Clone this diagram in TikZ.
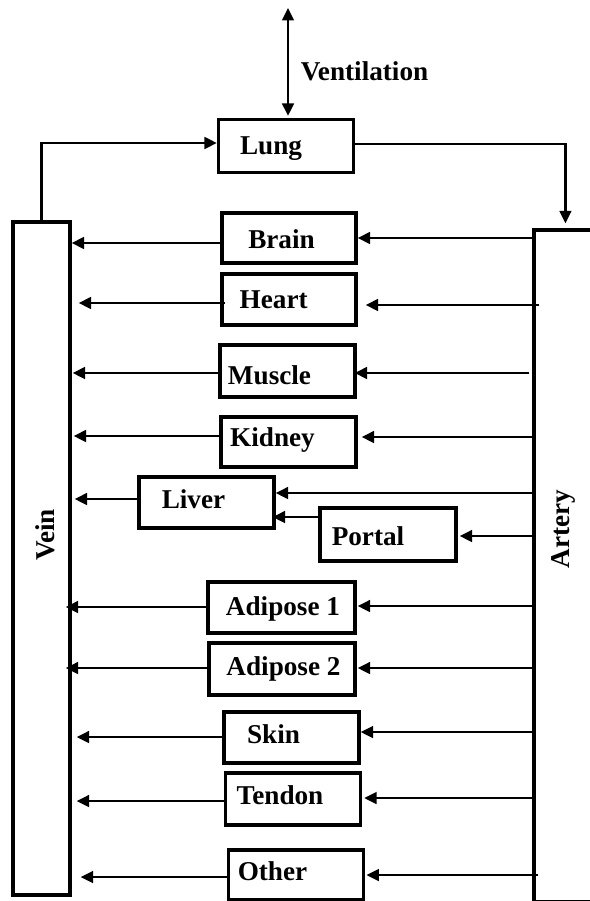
\documentclass[tikz,border=0pt]{standalone}
\usepackage{fontspec}
\setmainfont{Liberation Serif}
\usetikzlibrary{calc,positioning,arrows.meta}

\begin{document}
\begin{tikzpicture}[
    x=1pt,y=-1pt,
    >={Triangle[length=12.5pt,width=11.5pt]},
    organ/.style={rectangle,draw,line width=3.1pt,inner sep=0pt,minimum width=135pt,minimum height=51pt},
    vessel/.style={rectangle,draw,line width=3.1pt,inner sep=0pt},
    title/.style={font=\bfseries\fontsize{27.2}{30}\selectfont,inner sep=0pt,text height=18pt,text depth=0pt},
    flow/.style={line width=2.7pt,->}
    ]
    \useasboundingbox (0,0) rectangle (589,901);

    % vessels
    \node(vein) [vessel,minimum width=57pt,minimum height=673pt] at (41.5,558.5) {};
    \node(vein_title) [title,rotate=90] at (45,535) {Vein};

    \node(artery) [vessel,minimum width=116pt,minimum height=671.5pt] at (592,565.75) {};
    \node(artery_title) [title,rotate=90] at (560,529) {Artery};

    % lung
    \node(lung) [organ,minimum height=53pt] at (286,146) {};
    \node(lung_title) [title,xshift=-15pt] at (lung) {Lung};
    \coordinate(air) at (288,8);
    \draw[flow,<->] (air) -- ($(air |- lung.north)+(0,-2)$);
    \node(vent_title) [title] at (364.5,71.5) {Ventilation};
    \draw[flow] (vein.north) |- ($(lung.west)+(0,-3)$);
    \draw[flow] ($(lung.east)+(0,-2)$) -| ($(artery.north west)+(33,-5)$);

    % organs
    \node(brain) [organ,minimum width=134pt,minimum height=50pt] at (289,238) {};
    \node(brain_title) [title,xshift=-7.5pt,yshift=-1pt] at (brain) {Brain};

    \node(heart) [organ,minimum width=134pt] at (289,299.5) {};
    \node(heart_title) [title,xshift=-15.3pt] at (heart) {Heart};

    \node(muscle) [organ,minimum height=52pt] at (287.5,371) {};
    \node(muscle_title) [title,xshift=-18pt,yshift=-4.3pt] at (muscle) {Muscle};

    \node(kidney) [organ,minimum height=50pt] at (288.5,442) {};
    \node(kidney_title) [title,xshift=-16pt,yshift=5pt] at (kidney) {Kidney};

    \node(liver) [organ] at (206.5,502.5) {};
    \node(liver_title) [title,xshift=-13pt,yshift=3pt] at (liver) {Liver};

    \node(portal) [organ,minimum width=136pt,minimum height=53pt] at (388,534.5) {};
    \node(portal_title) [title,xshift=-20pt,yshift=-2pt] at (portal) {Portal};

    \node(adipose_one) [organ,minimum width=147pt] at (281.5,607.5) {};
    \node(adipose_one_title) [title,xshift=1.5pt,yshift=1.5pt] at (adipose_one) {Adipose 1};

    \node(adipose_two) [organ,minimum width=146pt,minimum height=52pt] at (282,669) {};
    \node(adipose_two_title) [title,xshift=1.5pt,yshift=2.5pt] at (adipose_two) {Adipose 2};

    \node(skin) [organ] at (291.5,737.5) {};
    \node(skin_title) [title,xshift=-18pt,yshift=3pt] at (skin) {Skin};

    \node(tendon) [organ,minimum height=52pt] at (293,799) {};
    \node(tendon_title) [title,xshift=-13pt,yshift=3.5pt] at (tendon) {Tendon};

    \node(other) [organ,minimum width=135.5pt,minimum height=50pt] at (296,875) {};
    \node(other_title) [title,xshift=-23.5pt,yshift=4pt] at (other) {Other};

    % artery to organs
    \draw[flow] (artery.west |- brain.east) -- (brain.east);
    \draw[flow] ($(artery.west |- heart.east)+(7,5.5)$) -- ($(heart.east)+(8,5.5)$);
    \draw[flow] ($(artery.west |- muscle.east)+(-3,2)$) -- ($(muscle.east)+(-2,2)$);
    \draw[flow] ($(artery.west |- kidney.east)+(3,-5)$) -- ($(kidney.east)+(4,-5)$);
    \draw[flow] ($(artery.west |- liver.east)+(0,-9.5)$) -- ($(liver.east)+(0,-9.5)$);
    \draw[flow] ($(artery.west |- portal.east)+(0,1.5)$) -- ($(portal.east)+(2,1.5)$);
    \draw[flow] ($(portal.west)+(0,-17.5)$) -- ($(liver.east |- portal.west)+(-3,-17.5)$);
    \draw[flow] ($(artery.west |- adipose_one.east)+(0,-1.5)$) -- ($(adipose_one.east)+(1,-1.5)$);
    \draw[flow] ($(artery.west |- adipose_two.east)+(0,-1)$) -- ($(adipose_two.east)+(1,-1)$);
    \draw[flow] ($(artery.west |- skin.east)+(0,-5.5)$) -- ($(skin.east)+(0,-5.5)$);
    \draw[flow] ($(artery.west |- tendon.east)+(3,-1)$) -- ($(tendon.east)+(2,-1)$);
    \draw[flow] ($(artery.west |- other.east)+(6,0)$) -- ($(other.east)+(1,0)$);

    % organs to vein
    \draw[flow] ($(brain.west)+(0,5)$) -- ($(vein.east |- brain.west)+(0,5)$);
    \draw[flow] ($(heart.west)+(5,3.5)$) -- ($(vein.east |- heart.west)+(7,3.5)$);
    \draw[flow] ($(muscle.west)+(0,2)$) -- ($(vein.east |- muscle.west)+(1,2)$);
    \draw[flow] ($(kidney.west)+(0,-6)$) -- ($(vein.east |- kidney.west)+(2,-6)$);
    \draw[flow] ($(liver.west)+(0,-3.5)$) -- ($(vein.east |- liver.west)+(3,-3.5)$);
    \draw[flow] ($(adipose_one.west)+(0,-0.5)$) -- ($(vein.east |- adipose_one.west)+(-6,-0.5)$);
    \draw[flow] ($(adipose_two.west)+(0,-1)$) -- ($(vein.east |- adipose_two.west)+(-6,-1)$);
    \draw[flow] ($(skin.west)+(0,-0.5)$) -- ($(vein.east |- skin.west)+(5,-0.5)$);
    \draw[flow] ($(tendon.west)+(0,2)$) -- ($(vein.east |- tendon.west)+(5,2)$);
    \draw[flow] ($(other.west)+(0,2)$) -- ($(vein.east |- other.west)+(9,2)$);

\end{tikzpicture}
\end{document}
